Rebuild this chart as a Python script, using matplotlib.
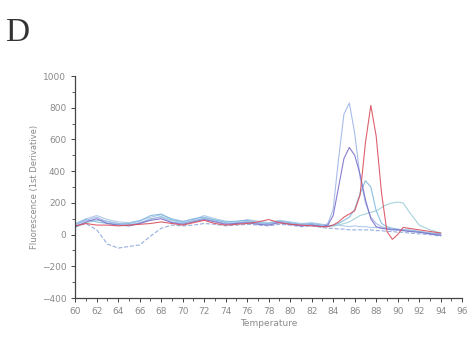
import matplotlib
matplotlib.use("Agg")
import matplotlib.pyplot as plt
from matplotlib.ticker import MultipleLocator

# Temperatura (eixo x) comum a todas as curvas
temps = [60, 61, 62, 63, 64, 65, 66, 67, 68, 69, 70, 71, 72, 73, 74, 75, 76, 77, 78, 79,
         80, 81, 82, 83, 83.5, 84, 84.5, 85, 85.5, 86, 86.5, 87, 87.5, 88, 88.5, 89, 89.5,
         90, 90.5, 91, 92, 93, 94]

# Curvas de derivada
azul_alto = [60, 90, 110, 80, 70, 60, 75, 100, 110, 80, 70, 90, 100, 85, 70, 75, 80, 70, 65, 80,
             70, 60, 65, 55, 70, 160, 480, 760, 830, 640, 360, 200, 110, 70, 50, 40, 35,
             30, 30, 25, 20, 10, 0]
roxo = [50, 80, 100, 70, 60, 55, 70, 90, 100, 75, 65, 80, 95, 80, 65, 70, 75, 65, 60, 75,
        65, 55, 60, 50, 60, 120, 300, 480, 550, 500, 380, 220, 100, 50, 40, 35, 30,
        30, 25, 20, 15, 5, -5]
vermelho = [55, 70, 60, 60, 55, 60, 65, 70, 80, 70, 60, 75, 90, 70, 60, 65, 70, 80, 95, 75,
            65, 60, 55, 50, 50, 60, 80, 110, 130, 150, 250, 580, 815, 620, 260, 20, -30,
            0, 45, 40, 30, 20, 10]
ciano = [65, 95, 80, 70, 65, 70, 85, 120, 130, 95, 80, 100, 110, 90, 80, 85, 90, 75, 70, 85,
         75, 65, 70, 60, 55, 60, 70, 90, 110, 160, 260, 340, 300, 150, 70, 50, 40,
         35, 30, 30, 20, 10, 5]
verde_agua = [45, 75, 90, 85, 70, 65, 70, 95, 115, 90, 75, 85, 105, 95, 75, 70, 85, 75, 70, 80,
              70, 60, 65, 55, 50, 55, 60, 70, 80, 100, 120, 130, 140, 150, 170, 190, 200,
              205, 200, 150, 60, 30, 10]
tracejada = [50, 70, 30, -60, -85, -75, -65, -10, 40, 60, 55, 60, 70, 65, 55, 60, 65, 60, 55, 65,
             60, 50, 55, 45, 40, 40, 35, 35, 30, 30, 30, 30, 30, 25, 25, 20, 20,
             15, 15, 10, 5, 0, -10]
azul_base = [70, 100, 120, 95, 80, 75, 90, 110, 125, 100, 85, 95, 120, 100, 85, 80, 95, 85, 75, 90,
             80, 70, 75, 65, 60, 55, 60, 55, 50, 55, 50, 50, 45, 45, 40, 40, 35,
             30, 30, 25, 15, 5, -5]

curvas = [
    (azul_base, "#a8c4e6", "-"),
    (verde_agua, "#9ccfd8", "-"),
    (tracejada, "#8aa8dc", "--"),
    (ciano, "#7fb8e0", "-"),
    (azul_alto, "#9fb6e8", "-"),
    (roxo, "#7a6fc8", "-"),
    (vermelho, "#d8505e", "-"),
]

cinza = "#8a8a8a"

fig = plt.figure(figsize=(4.76, 3.41), dpi=100)
ax = fig.add_axes([0.158, 0.126, 0.813, 0.651])

for valores, cor, estilo in curvas:
    ax.plot(temps, valores, color=cor, linestyle=estilo, linewidth=0.8, alpha=0.9)

ax.set_xlim(60, 96)
ax.set_ylim(-400, 1000)
ax.xaxis.set_major_locator(MultipleLocator(2))
ax.xaxis.set_minor_locator(MultipleLocator(1))
ax.yaxis.set_major_locator(MultipleLocator(200))
ax.yaxis.set_minor_locator(MultipleLocator(100))

for lado in ["top", "right"]:
    ax.spines[lado].set_visible(False)
for lado in ["left", "bottom"]:
    ax.spines[lado].set_color("#444444")
    ax.spines[lado].set_linewidth(0.9)

ax.tick_params(which="major", length=3, width=0.7, color="#444444",
               labelsize=6.5, labelcolor=cinza)
ax.tick_params(which="minor", length=2, width=0.6, color="#444444")

ax.set_xlabel("Temperature", fontsize=6.5, color=cinza, labelpad=2)
ax.set_ylabel("Fluorescence (1st Derivative)", fontsize=6, color=cinza, labelpad=2)

fig.text(0.01, 0.88, "D", fontsize=24, family="Liberation Serif", color="#333333")

fig.savefig("out.png", dpi=100)
